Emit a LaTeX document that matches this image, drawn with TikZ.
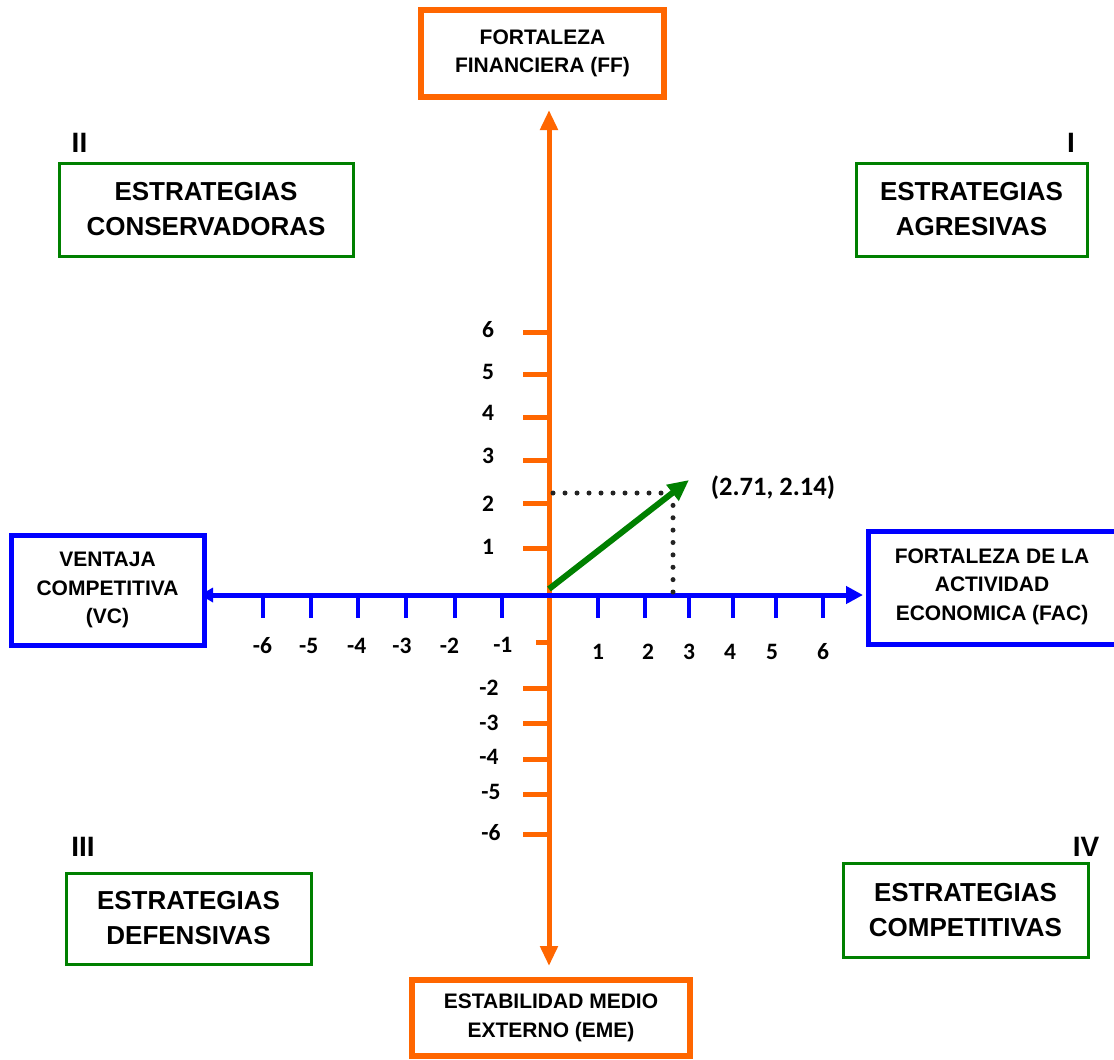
\documentclass[tikz,border=0pt]{standalone}
\usepackage{fontspec}
\setmainfont{Liberation Sans}
\newfontfamily\numfont{Carlito}
\usetikzlibrary{arrows.meta}
\definecolor{axorange}{RGB}{255,102,0}
\definecolor{axblue}{RGB}{0,0,255}
\definecolor{boxgreen}{RGB}{0,128,0}
\definecolor{dotgray}{RGB}{35,35,35}
\begin{document}
\begin{tikzpicture}[x=1pt,y=-1pt,
  axisbox/.style={draw, rectangle, inner sep=0pt, align=center, fill=white,
    font=\fontsize{21}{28.5}\selectfont\bfseries},
  obox/.style={axisbox, draw=axorange, line width=6pt},
  bbox/.style={axisbox, draw=axblue, line width=5pt},
  stratbox/.style={draw=boxgreen, line width=3pt, rectangle, inner sep=0pt, align=center,
    font=\fontsize{26}{35}\selectfont\bfseries},
  roman/.style={inner sep=0pt, font=\fontsize{28}{30}\selectfont\bfseries},
  num/.style={inner sep=0pt, font=\numfont\fontsize{23.5}{26}\selectfont\bfseries},
  otick/.style={draw=axorange, line width=5pt},
  btick/.style={draw=axblue, line width=4pt},
  dotline/.style={draw=dotgray, line width=5pt, line cap=round}
]
\useasboundingbox (0,0) rectangle (1114,1060);
\clip (0,0) rectangle (1114,1060);
\fill[white] (0,0) rectangle (1114,1060);

% axis end points
\coordinate (ytop) at (549,110);
\coordinate (ybot) at (549,966);
\coordinate (xleft) at (200,595);
\coordinate (xright) at (863,595);
\coordinate (orig) at (549,589);
\coordinate (pt) at (689,480);
\coordinate (dA) at (553,493);
\coordinate (dB) at (673,493);
\coordinate (dC) at (673,592);

% orange ticks
\foreach \yy in {332,374,417,460,503,548,688,723,759,794,834}
  \path[otick] (523,\yy) -- (549,\yy);
\path[otick] (536,642) -- (549,642);
% blue ticks
\foreach \xx in {263,311,358,406,455,502,598,645,689,733,776,823}
  \path[btick] (\xx,595) -- (\xx,618);

% axes
\draw[axorange, line width=5pt, {Triangle[length=20pt,width=17pt]}-{Triangle[length=20pt,width=17pt]}] (ytop) -- (ybot);
\draw[axblue, line width=5pt, {Triangle[length=13pt,width=14pt]}-{Triangle[length=17pt,width=17pt]}] (xleft) -- (xright);

% dotted projections
\path[dotline, dash pattern=on 0pt off 12pt] (dA) -- (dB);
\path[dotline, dash pattern=on 0pt off 12.375pt] (dB) -- (dC);

% vector
\draw[boxgreen, line width=6pt, -{Triangle[length=21pt,width=19pt]}] (orig) -- (pt);

% axis boxes
\node[obox, minimum width=243pt, minimum height=87pt] (ff) at (542.5,53.5) {FORTALEZA\\FINANCIERA (FF)};
\node[obox, minimum width=278pt, minimum height=76pt] (eme) at (551,1018) {ESTABILIDAD MEDIO\\EXTERNO (EME)};
\node[bbox, minimum width=193pt, minimum height=110pt] (vc) at (107.5,590) {VENTAJA\\COMPETITIVA\\(VC)};
\node[bbox, minimum width=252pt, minimum height=113pt, anchor=west] (fac) at (866,587.5) {\hspace*{0pt}};
\node[inner sep=0pt, align=center, font=\fontsize{21}{28.5}\selectfont\bfseries] (factext) at (992,586.5) {FORTALEZA DE LA\\ACTIVIDAD\\ECONOMICA (FAC)};

% strategy boxes
\node[stratbox, minimum width=294pt, minimum height=93pt] (q2) at (206,209.5) {ESTRATEGIAS\\CONSERVADORAS};
\node[stratbox, minimum width=231pt, minimum height=93pt] (q1) at (971.5,209.5) {ESTRATEGIAS\\AGRESIVAS};
\node[stratbox, minimum width=245pt, minimum height=91pt] (q3) at (188.5,918.5) {ESTRATEGIAS\\DEFENSIVAS};
\node[stratbox, minimum width=245pt, minimum height=94pt] (q4) at (965.5,910) {ESTRATEGIAS\\COMPETITIVAS};

% roman numerals
\node[roman] (r2) at (79.5,143) {II};
\node[roman] (r1) at (1071,143) {I};
\node[roman] (r3) at (83,846.5) {III};
\node[roman] (r4) at (1086,846.5) {IV};

% point label
\node[inner sep=0pt, font=\numfont\fontsize{26.5}{30}\selectfont\bfseries] (ptlabel) at (773,488) {(2.71, 2.14)};

% vertical numbers
\node[num] (v6) at (488,330) {6};
\node[num] (v5) at (488,372) {5};
\node[num] (v4) at (488,413) {4};
\node[num] (v3) at (488,456) {3};
\node[num] (v2) at (488,504) {2};
\node[num] (v1) at (488,547) {1};
\node[num] (vm2) at (489,688) {-2};
\node[num] (vm3) at (489,723) {-3};
\node[num] (vm4) at (489,757) {-4};
\node[num] (vm5) at (491,792) {-5};
\node[num] (vm6) at (491,833) {-6};
% horizontal numbers
\node[num] (hm6) at (262.5,646) {-6};
\node[num] (hm5) at (308.7,646) {-5};
\node[num] (hm4) at (356.7,646) {-4};
\node[num] (hm3) at (402,646) {-3};
\node[num] (hm2) at (449.5,646) {-2};
\node[num] (hm1) at (502.8,645) {-1};
\node[num] (h1) at (598,652) {1};
\node[num] (h2) at (648,652) {2};
\node[num] (h3) at (689,652) {3};
\node[num] (h4) at (730,652) {4};
\node[num] (h5) at (772,652) {5};
\node[num] (h6) at (823,652) {6};
\end{tikzpicture}
\end{document}
